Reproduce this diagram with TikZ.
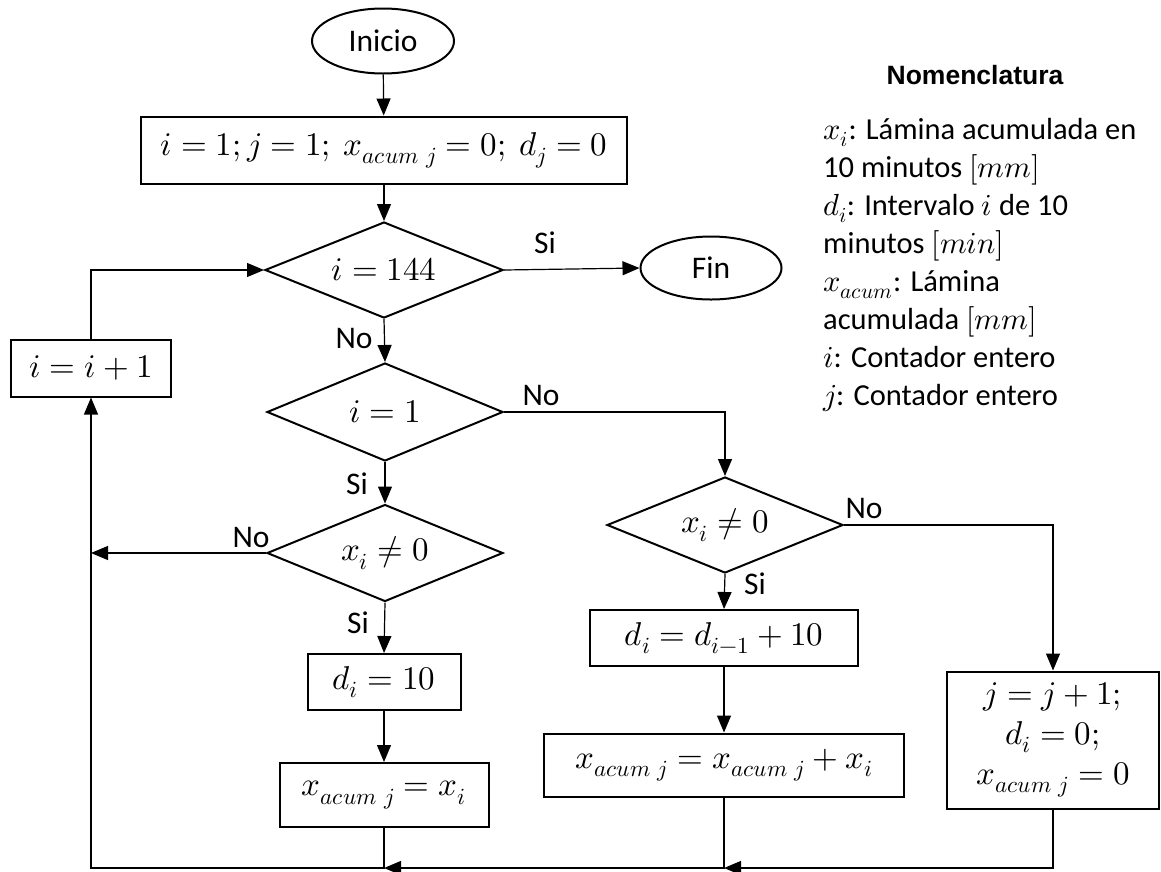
\documentclass[tikz,border=0pt]{standalone}
\usepackage{fontspec}
\usepackage{unicode-math}
\setmainfont{Carlito}
\newfontfamily\titulofont{Liberation Sans}
\usetikzlibrary{shapes.geometric,arrows.meta}

\begin{document}
\begin{tikzpicture}[x=1pt,y=-1pt]
	\tikzset{>={Triangle[length=17pt,width=14pt]}}
	\tikzset{
		every node/.style={font=\fontsize{31.5}{38}\selectfont},
		mate/.style={font=\fontsize{33}{40}\selectfont},
		caja/.style={draw,line width=2pt,rectangle,inner sep=0pt,mate},
		decision/.style={draw,line width=2pt,diamond,aspect=2.5,inner sep=0pt,mate},
		terminal/.style={draw,line width=2pt,ellipse,inner sep=0pt},
		flecha/.style={->,line width=1.2pt},
		etiq/.style={inner sep=0pt}
	}
	\useasboundingbox (0,0) rectangle (1161,871);

  \node[terminal,minimum width=142pt,minimum height=65pt] (inicio) at (383,41) {Inicio};
  \node[caja,minimum width=486pt,minimum height=67pt] (init) at (384,150) {$i=1; j=1;\ x_{acum\ j}=0;\ d_j=0$};
  \node[decision,minimum width=238pt,minimum height=96pt] (c144) at (384,270) {$i=144$};
  \node[terminal,minimum width=141pt,minimum height=63pt] (fin) at (711,268) {Fin};
  \node[caja,minimum width=160pt,minimum height=57pt] (incr) at (91,368) {$i=i+1$};

  \node[decision,minimum width=236pt,minimum height=98pt] (c1) at (385,412) {$i=1$};
  \node[decision,minimum width=236pt,minimum height=97pt] (cxa) at (385,553) {$x_i\neq 0$};
  \node[caja,minimum width=153pt,minimum height=56pt] (d10) at (384,682) {$d_i=10$};
  \node[caja,minimum width=209pt,minimum height=64pt] (xacuma) at (384,795) {$x_{acum\ j}=x_i$};

  \node[decision,minimum width=236pt,minimum height=96pt] (cxb) at (725,525) {$x_i\neq 0$};
  \node[caja,minimum width=268pt,minimum height=56pt] (dsum) at (724,638) {$d_i=d_{i-1}+10$};
  \node[caja,minimum width=360pt,minimum height=63pt] (xacumb) at (724,765) {$x_{acum\ j}=x_{acum\ j}+x_i$};
  \node[caja,minimum width=212pt,minimum height=137pt,align=center] (reset) at (1053,740) {$j=j+1;$\\$d_i=0;$\\$x_{acum\ j}=0$};

  \coordinate (b1) at (384,868);
  \coordinate (b2) at (724,868);

  \draw[flecha] (inicio) -- (init);
  \draw[flecha] (init) -- (c144);
  \draw[flecha] (c144.east) -- (fin.west);
  \draw[flecha] (c144.south) -- (c1.north);
  \draw[flecha] (c1.south) -- (cxa.north);
  \draw[flecha] (cxa.south) -- (d10.north);
  \draw[flecha] (d10) -- (xacuma);
  \draw[flecha] (cxa.west) -- (cxa.west -| incr.south);
  \draw[flecha] (c1.east) -| (cxb.north);
  \draw[flecha] (cxb.south) -- (dsum.north);
  \draw[flecha] (dsum) -- (xacumb);
  \draw[flecha] (cxb.east) -| (reset.north);
  \draw[flecha] (reset.south) |- (b2);
  \draw[flecha] (xacumb.south) |- (b1);
  \draw[flecha] (xacuma.south) -- (b1) -| (incr.south);
  \draw[flecha] (incr.north) |- (c144.west);

  \node[etiq] (si1) at (545,243) {Si};
  \node[etiq] (no1) at (354,338) {No};
  \node[etiq] (no2) at (541,395) {No};
  \node[etiq] (si2) at (357,484) {Si};
  \node[etiq] (no3) at (251,537) {No};
  \node[etiq] (si3) at (358,623) {Si};
  \node[etiq] (no4) at (864,508) {No};
  \node[etiq] (si4) at (755,584) {Si};

  \node[etiq,font=\titulofont\bfseries\fontsize{26.5}{30}\selectfont] (titulo) at (975,75) {Nomenclatura};
  \node[etiq,anchor=north west,align=left,font=\fontsize{30.5}{38}\selectfont] (nomen) at (823,118) {$x_i$: Lámina acumulada en\\10 minutos $[mm]$\\$d_i$: Intervalo $i$ de 10\\minutos $[min]$\\$x_{acum}$: Lámina\\acumulada $[mm]$\\$i$: Contador entero\\$j$: Contador entero};

\end{tikzpicture}
\end{document}
